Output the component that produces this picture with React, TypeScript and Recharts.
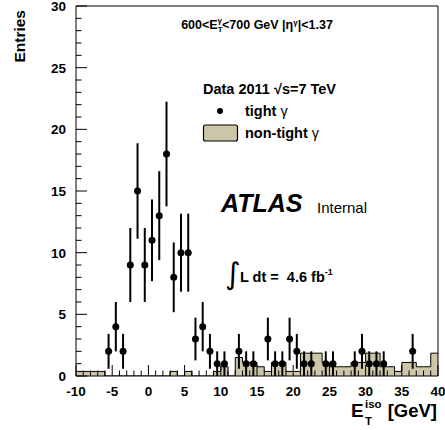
import React from "react";
import { Area, ComposedChart, ErrorBar, ReferenceLine, Scatter, XAxis, YAxis } from "recharts";

// non-tight histogram: lower bin edge (1 GeV bins) and scaled content
const binLow = [
  -10, -9, -8, -7, -6, -5, -4, -3, -2, -1, 0, 1, 2, 3, 4, 5, 6, 7, 8, 9, 10, 11, 12, 13, 14,
  15, 16, 17, 18, 19, 20, 21, 22, 23, 24, 25, 26, 27, 28, 29, 30, 31, 32, 33, 34, 35, 36, 37, 38, 39,
];
const nonTight = [
  0.37, 0.37, 0.37, 0.37, 0, 0, 0, 0, 0, 0, 0, 0, 0, 0.37, 0, 0.37, 0, 0, 0, 0.37, 0.75, 0, 1.5, 1.1, 1.1,
  0.75, 0.37, 1.1, 1.1, 0.37, 0.37, 1.85, 1.85, 1.85, 1.1, 0.75, 0.75, 0.75, 1.1, 1.1, 1.85, 1.85, 0.75, 0.75, 0.37, 1.1, 1.1, 0.75, 0.75, 1.85,
];

// tight photons: bin centre and entries
const tightX = [
  -5.5, -4.5, -3.5, -2.5, -1.5, -0.5, 0.5, 1.5, 2.5, 3.5, 4.5, 5.5, 6.5, 7.5, 8.5, 9.5, 10.5,
  12.5, 13.5, 14.5, 16.5, 17.5, 18.5, 19.5, 20.5, 21.5, 22.5, 24.5, 25.5, 28.5, 29.5, 30.5, 31.5, 32.5, 36.5,
];
const tightY = [
  2, 4, 2, 9, 15, 9, 11, 13, 18, 8, 10, 10, 3, 4, 2, 1, 1,
  2, 1, 1, 3, 1, 1, 3, 2, 1, 1, 1, 1, 1, 2, 1, 1, 1, 2,
];

const xTicks = [
  -10, -9, -8, -7, -6, -5, -4, -3, -2, -1, 0, 1, 2, 3, 4, 5, 6, 7, 8, 9, 10, 11, 12, 13, 14, 15, 16, 17, 18, 19, 20,
  21, 22, 23, 24, 25, 26, 27, 28, 29, 30, 31, 32, 33, 34, 35, 36, 37, 38, 39, 40,
];
const yTicks = [0, 1, 2, 3, 4, 5, 6, 7, 8, 9, 10, 11, 12, 13, 14, 15, 16, 17, 18, 19, 20, 21, 22, 23, 24, 25, 26, 27, 28, 29, 30];

const histData = binLow
  .map((x, i) => ({ x, v: nonTight[i] }))
  .concat([{ x: 40, v: nonTight[nonTight.length - 1] }]);
const tightData = tightX.map((x, i) => ({ x, y: tightY[i], err: Math.sqrt(tightY[i]) }));

const FONT = "'Liberation Sans', Arial, Helvetica, sans-serif";
const TAN = "#cdc6a9";

function XTick(props: any) {
  const { x, y, payload } = props;
  const major = payload.value % 5 === 0;
  return (
    <g>
      <line x1={x} x2={x} y1={y} y2={y - (major ? 11 : 5.5)} stroke="#000" strokeWidth={1} />
      {major && (
        <text x={x} y={y + 20} textAnchor="middle" fontFamily={FONT} fontWeight="bold" fontSize={13.5} fill="#000">
          {payload.value}
        </text>
      )}
    </g>
  );
}

function YTick(props: any) {
  const { x, y, payload } = props;
  const major = payload.value % 5 === 0;
  return (
    <g>
      <line x1={x} x2={x + (major ? 11 : 5.5)} y1={y} y2={y} stroke="#000" strokeWidth={1} />
      {major && (
        <text x={x - 10} y={y + 5} textAnchor="end" fontFamily={FONT} fontWeight="bold" fontSize={13.5} fill="#000">
          {payload.value}
        </text>
      )}
    </g>
  );
}

export default function App() {
  return (
    <div style={{ position: "absolute", left: 0, top: 0, width: 445, height: 430, background: "#fff" }}>
      <ComposedChart width={445} height={430} margin={{ top: 6, right: 7, left: 0, bottom: 0 }}>
        <Area
          data={histData}
          dataKey="v"
          type="stepAfter"
          fill={TAN}
          fillOpacity={1}
          stroke="#000"
          strokeWidth={1}
          dot={false}
          activeDot={false}
          isAnimationActive={false}
        />
        <Scatter
          data={tightData}
          dataKey="y"
          fill="#000"
          isAnimationActive={false}
          shape={(p: any) => <circle cx={p.cx} cy={p.cy} r={3.5} fill="#000" />}
        >
          <ErrorBar dataKey="err" direction="y" width={0} stroke="#000" strokeWidth={2} isAnimationActive={false} />
        </Scatter>
        <ReferenceLine y={30} stroke="#000" strokeWidth={1} />
        <ReferenceLine x={40} stroke="#000" strokeWidth={1} />
        <XAxis
          dataKey="x"
          type="number"
          domain={[-10, 40]}
          ticks={xTicks}
          interval={0}
          height={54}
          tickSize={0}
          tickMargin={0}
          tickLine={false}
          axisLine={{ stroke: "#000" }}
          tick={<XTick />}
          allowDataOverflow
        />
        <YAxis
          type="number"
          domain={[0, 30]}
          ticks={yTicks}
          interval={0}
          width={76}
          tickSize={0}
          tickMargin={0}
          tickLine={false}
          axisLine={{ stroke: "#000" }}
          tick={<YTick />}
          allowDataOverflow
        />
      </ComposedChart>
      <svg width={445} height={430} style={{ position: "absolute", left: 0, top: 0, pointerEvents: "none" }} fontFamily={FONT}>
        <text transform="translate(25,10) rotate(-90)" textAnchor="end" fontWeight="bold" fontSize={15.5}>
          Entries
        </text>
        <text x={257} y={29} textAnchor="middle" fontWeight="bold" fontSize={12.5}>
          600&lt;E
          <tspan fontSize={8} dy={3}>T</tspan>
          <tspan fontSize={8} dx={-5} dy={-9}>γ</tspan>
          <tspan dy={6}>&lt;700 GeV |η</tspan>
          <tspan fontSize={8} dy={-4}>γ</tspan>
          <tspan dy={4}>|&lt;1.37</tspan>
        </text>
        <text x={203} y={94} fontWeight="bold" fontSize={14.5}>
          Data 2011 √s=7 TeV
        </text>
        <circle cx={220} cy={111} r={3} fill="#000" />
        <text x={245} y={116} fontWeight="bold" fontSize={14.5}>
          tight <tspan fontWeight="normal">γ</tspan>
        </text>
        <rect x={203.5} y={125} width={34} height={16} rx={2} fill={TAN} stroke="#000" strokeWidth={1.2} />
        <text x={245} y={138} fontWeight="bold" fontSize={14.5}>
          non-tight <tspan fontWeight="normal">γ</tspan>
        </text>
        <text x={221} y={212} fontWeight="bold" fontStyle="italic" fontSize={25}>
          ATLAS
        </text>
        <text x={317} y={212.5} fontSize={15}>
          Internal
        </text>
        <text x={225} y={284} fontFamily="'DejaVu Sans', sans-serif" fontSize={30}>
          ∫
        </text>
        <text x={240} y={282} fontWeight="bold" fontSize={14.5} style={{ whiteSpace: "pre" }}>
          {"L dt =  4.6 fb"}
          <tspan fontSize={9} dy={-7}>-1</tspan>
        </text>
        <text x={351} y={417} fontWeight="bold" fontSize={19}>
          E
        </text>
        <text x={365} y={408} fontWeight="bold" fontSize={11.5}>
          iso
        </text>
        <text x={365} y={425} fontWeight="bold" fontSize={11.5}>
          T
        </text>
        <text x={437} y={417} textAnchor="end" fontWeight="bold" fontSize={18.5}>
          [GeV]
        </text>
      </svg>
    </div>
  );
}
